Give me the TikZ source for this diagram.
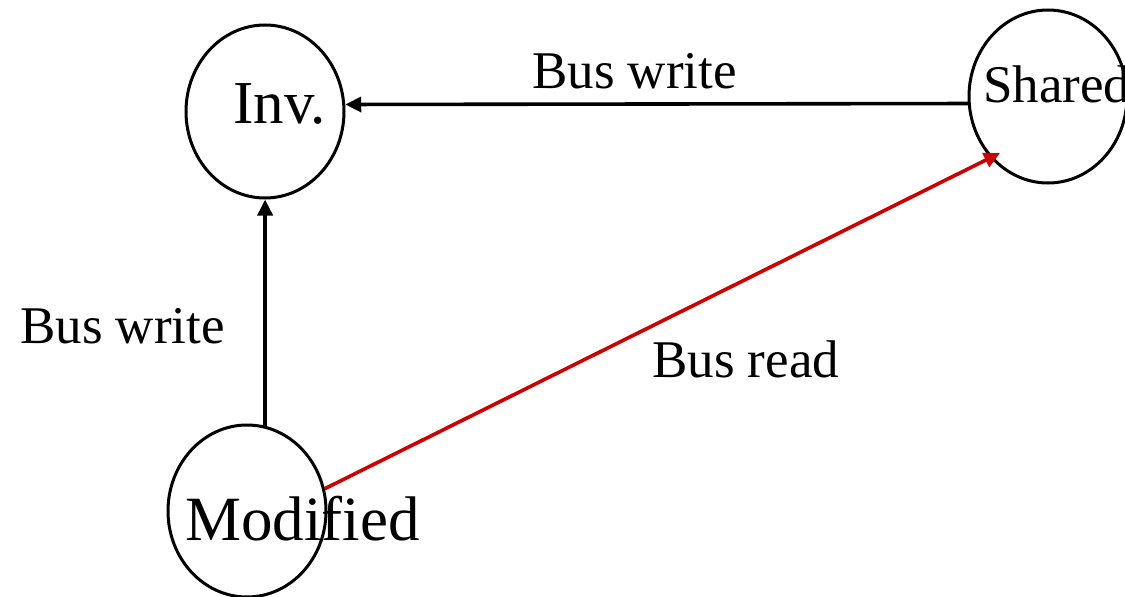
\documentclass[tikz,border=0pt]{standalone}
\usepackage{fontspec}
\setmainfont{Liberation Serif}
\usetikzlibrary{shapes.geometric,arrows.meta}
\definecolor{busred}{RGB}{204,0,0}
\tikzset{
  statering/.style={draw=black, line width=3pt, ellipse, inner sep=0pt,
    minimum width=#1},
  statering/.default=158pt,
  statetext/.style={inner sep=0pt, anchor=base west},
  edgelabel/.style={inner sep=0pt, anchor=base west, font=\fontsize{53}{60}\selectfont},
  transition/.style={line width=3.6pt, -{Triangle[length=16pt,width=15pt]}},
}
\begin{document}
\begin{tikzpicture}[x=1pt,y=-1pt]
  \useasboundingbox (0,0) rectangle (1125,597);

  % states
  \node[statering, minimum height=173pt] (Inv) at (265,111.5) {};
  \node[statering, minimum height=173pt] (Shared) at (1048,96.5) {};
  \node[statering, minimum height=172pt] (Modified) at (247,511) {};

  % state names
  \node[statetext, font=\fontsize{61}{66}\selectfont] (InvText) at (233,123) {Inv.};
  \node[statetext, font=\fontsize{53}{60}\selectfont] (SharedText) at (983,102) {Shared};
  \node[statetext, font=\fontsize{63}{70}\selectfont] (ModifiedText) at (185,540) {Modified};

  % transitions
  \draw[transition] (Shared.185.4) -- (Inv.5.4);
  \draw[transition] (Modified.78.6) -- (Modified.78.6 |- Inv.south);
  \draw[transition, draw=busred, fill=busred]
    (Modified.16) -- ([shift={(-48pt,-56.5pt)}]Shared.center);

  % transition labels
  \node[edgelabel] (lblSI) at (532,88) {Bus write};
  \node[edgelabel] (lblMI) at (20,343) {Bus write};
  \node[edgelabel] (lblMS) at (652,377) {Bus read};
\end{tikzpicture}
\end{document}
